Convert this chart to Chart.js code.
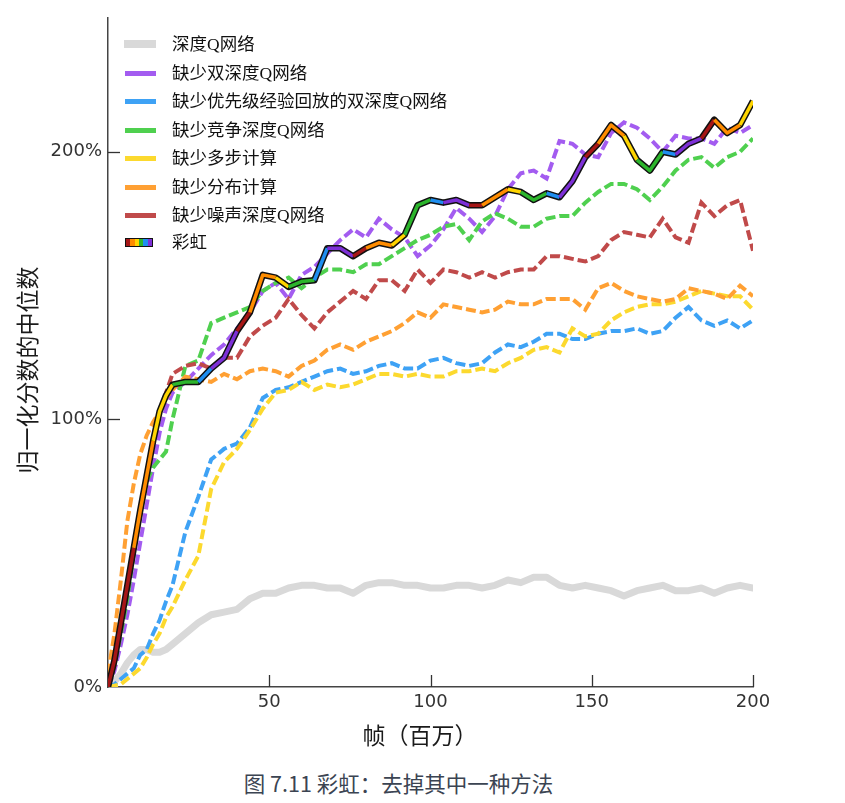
<!DOCTYPE html>
<html>
<head>
<meta charset="utf-8">
<script src="https://cdn.jsdelivr.net/npm/chart.js@4.4.1/dist/chart.umd.min.js"></script>
<style>
html,body{margin:0;padding:0;background:#fff;}
#wrap{position:relative;width:845px;height:803px;overflow:hidden;}
#c{position:absolute;left:0;top:0;}
#legend{position:absolute;left:0;top:0;font-family:"Liberation Serif","Noto Sans CJK SC",serif;font-size:17.5px;color:#111;}
.item{position:absolute;left:125px;height:28px;line-height:28px;white-space:nowrap;}
.sw{position:absolute;left:0;top:12px;width:31px;height:5px;}
.lbl{position:absolute;left:47px;top:0;}
#caption{position:absolute;left:0;width:797px;top:767px;text-align:center;font-family:"Noto Sans CJK SC",sans-serif;font-size:21.5px;color:#3b4452;}
</style>
</head>
<body>
<div id="wrap">
<canvas id="c" width="845" height="760"></canvas>
<div id="legend"></div>
<div id="caption">图 7.11 彩虹：去掉其中一种方法</div>
</div>
<script>
// ---- data ----
const frames = [0,2,4,6,8,10,12,14,16,18,20,
  24,28,32,36,40,44,48,52,56,60,
  64,68,72,76,80,84,88,92,96,100,
  104,108,112,116,120,124,128,132,136,140,
  144,148,152,156,160,164,168,172,176,180,
  184,188,192,196,200];

const seriesNames = ['深度Q网络','缺少双深度Q网络','缺少优先级经验回放的双深度Q网络','缺少竞争深度Q网络','缺少多步计算','缺少分布计算','缺少噪声深度Q网络','彩虹'];

const dqn = [0,2,5,9,12,14,14,13,13,14,16,
  20,24,27,28,29,33,35,35,37,38,
  38,37,37,35,38,39,39,38,38,37,
  37,38,38,37,38,40,39,41,41,38,
  37,38,37,36,34,36,37,38,36,36,
  37,35,37,38,37];
const noDouble = [0,6,16,27,40,54,68,82,95,104,110,
  114,119,124,128,134,140,148,151,145,154,
  157,162,167,171,168,175,171,168,161,165,
  171,179,175,170,176,186,192,193,190,204,
  203,199,198,207,211,209,205,200,206,205,
  205,203,209,207,210];
const noPriority = [0,1,3,5,7,12,14,20,25,32,38,
  58,71,85,89,91,97,108,111,112,114,
  116,118,119,117,118,120,121,119,119,122,
  123,121,120,121,125,128,127,129,132,132,
  130,130,132,133,133,134,132,133,138,142,
  137,135,137,134,137];
const noDueling = [0,8,20,33,50,66,77,82,85,88,100,
  120,122,136,138,140,142,148,151,153,149,
  153,156,156,155,158,158,161,164,167,169,
  172,173,167,174,177,175,172,172,175,176,
  176,181,185,188,188,186,182,187,193,197,
  198,194,198,200,205];
const noMultistep = [0,0.5,1,3,5,7,11,16,20,26,30,
  40,49,74,84,89,96,104,110,111,114,
  111,113,112,113,115,117,117,116,117,116,
  116,118,118,119,118,121,123,126,127,125,
  134,131,132,137,140,142,143,143,144,146,
  148,147,146,146,141];
const noDistrib = [5,20,40,62,76,87,94,99,103,108,111,
  116,115,114,117,115,118,119,118,116,120,
  122,126,128,126,129,131,133,136,140,138,
  143,142,141,140,141,144,143,143,145,145,
  145,141,149,151,148,146,145,144,145,149,
  148,147,145,150,146];
const noNoisy = [0,8,22,36,50,64,78,91,102,110,117,
  120,121,119,123,123,131,135,138,145,139,
  134,140,144,148,145,152,152,148,156,151,
  156,155,153,155,153,155,156,156,161,161,
  160,159,161,167,170,169,168,175,168,166,
  181,176,180,182,163];
const rainbow = [0,10,24,38,52,66,79,92,103,109,113,
  114,114,119,123,133,140,154,153,149.5,151.5,
  152,164,164,161,164,166,165,169,180,182,
  181,182,180,180,183,186,185,182,184.5,183,
  189,198,203,210,206,197,193,200,199,203,
  205,212,207,210,219];

const xTickValues = [50,100,150,200];
const yTickValues = [0,100,200];
const xTitle = '帧（百万）';
const yTitle = '归一化分数的中位数';

// ---- styles ----
const colors = ['#d9d9d9','#a35cf0','#3ea2f5','#4fd04f','#fcd92e','#ffa033','#c04a4a'];
const RB = ['#a51616','#ff8c00','#ffd500','#2cb52c','#1e8ef0','#7d30d6'];
function rbColor(x){ return RB[Math.floor(x/6.03 + 1e-9) % 6]; }

const toXY = arr => frames.map((f,i)=>({x:f,y:arr[i]}));
const dashedSeries = [noDouble,noPriority,noDueling,noMultistep,noDistrib,noNoisy];
const dashedOrder = [8,7,6,5,4,3];

const datasets = [];
datasets.push({label:seriesNames[0], data:toXY(dqn), borderColor:colors[0], borderWidth:7, pointRadius:0, tension:0, order:10, borderJoinStyle:'round', borderCapStyle:'round'});
dashedSeries.forEach((arr,i)=>{
  datasets.push({label:seriesNames[i+1], data:toXY(arr), borderColor:colors[i+1], borderWidth:4, borderDash:[10,4], pointRadius:0, tension:0, order:dashedOrder[i]});
});
datasets.push({label:'_outline', data:toXY(rainbow), borderColor:'#111', borderWidth:6.5, pointRadius:0, tension:0, order:1, borderJoinStyle:'round'});
datasets.push({label:seriesNames[7], data:toXY(rainbow), borderColor:RB[0], borderWidth:3.5, pointRadius:0, tension:0, order:0, borderJoinStyle:'round',
  segment:{borderColor: ctx => rbColor(ctx.p0.parsed.x)}});

const deco = {
  id:'deco',
  beforeDatasetsDraw(chart){
    const {ctx, scales:{x,y}} = chart;
    ctx.save();
    ctx.strokeStyle='#333'; ctx.lineWidth=1.3;
    yTickValues.forEach(v=>{ if(v===0) return; const py=Math.round(y.getPixelForValue(v))+0.5; ctx.beginPath(); ctx.moveTo(x.left,py); ctx.lineTo(x.left+12,py); ctx.stroke(); });
    xTickValues.forEach(v=>{ const px=Math.round(x.getPixelForValue(v))+0.5; ctx.beginPath(); ctx.moveTo(px,y.bottom); ctx.lineTo(px,y.bottom-12); ctx.stroke(); });
    ctx.restore();
  },
  afterDraw(chart){
    const {ctx} = chart;
    ctx.save();
    ctx.fillStyle='#1a1a1a';
    ctx.font='23px "Noto Sans CJK SC", sans-serif';
    ctx.textAlign='center'; ctx.textBaseline='middle';
    ctx.fillText(xTitle, 420, 735);
    ctx.translate(27, 370); ctx.rotate(-Math.PI/2);
    ctx.fillText(yTitle, 0, 0);
    ctx.restore();
  }
};

const tickFont = {family:'"DejaVu Sans", sans-serif', size:18};

new Chart(document.getElementById('c'), {
  type:'line',
  data:{datasets},
  options:{
    responsive:false,
    animation:false,
    devicePixelRatio:1,
    layout:{padding:{left:0, top:18, right:92, bottom:0}},
    plugins:{legend:{display:false}, tooltip:{enabled:false}},
    scales:{
      x:{type:'linear', min:0, max:200,
        afterBuildTicks: s => { s.ticks = xTickValues.map(v=>({value:v})); },
        afterFit: s => { s.height = 73; },
        grid:{drawOnChartArea:false, drawTicks:false},
        border:{display:true, color:'#444', width:1.5},
        ticks:{font:tickFont, color:'#333', padding:5, maxRotation:0}
      },
      y:{min:0, max:250,
        afterBuildTicks: s => { s.ticks = yTickValues.map(v=>({value:v})); },
        afterFit: s => { s.width = 108; },
        grid:{drawOnChartArea:false, drawTicks:false},
        border:{display:true, color:'#444', width:1.5},
        ticks:{font:tickFont, color:'#333', padding:6, callback: v => v + '%'}
      }
    }
  },
  plugins:[deco]
});

// ---- legend (HTML) ----
const legend = document.getElementById('legend');
const rowCenters = [44,73,101,130,158,187,215,242];
seriesNames.forEach((name,i)=>{
  const item = document.createElement('div');
  item.className='item';
  item.style.top = (rowCenters[i]-14)+'px';
  const sw = document.createElement('div');
  sw.className='sw';
  if(i===0){ sw.style.background=colors[0]; sw.style.height='8px'; sw.style.top='10px'; sw.style.width='32px'; sw.style.left='-1px'; }
  else if(i<7){ sw.style.background=colors[i]; }
  else {
    sw.style.height='7px'; sw.style.top='10px'; sw.style.width='26px';
    sw.style.border='1.5px solid #111';
    const stops = RB.map((c,k)=>`${c} ${k*100/6}%, ${c} ${(k+1)*100/6}%`).join(',');
    sw.style.background=`linear-gradient(to right, ${stops})`;
  }
  const lbl = document.createElement('span');
  lbl.className='lbl';
  lbl.textContent = name;
  item.appendChild(sw); item.appendChild(lbl);
  legend.appendChild(item);
});
</script>
</body>
</html>
